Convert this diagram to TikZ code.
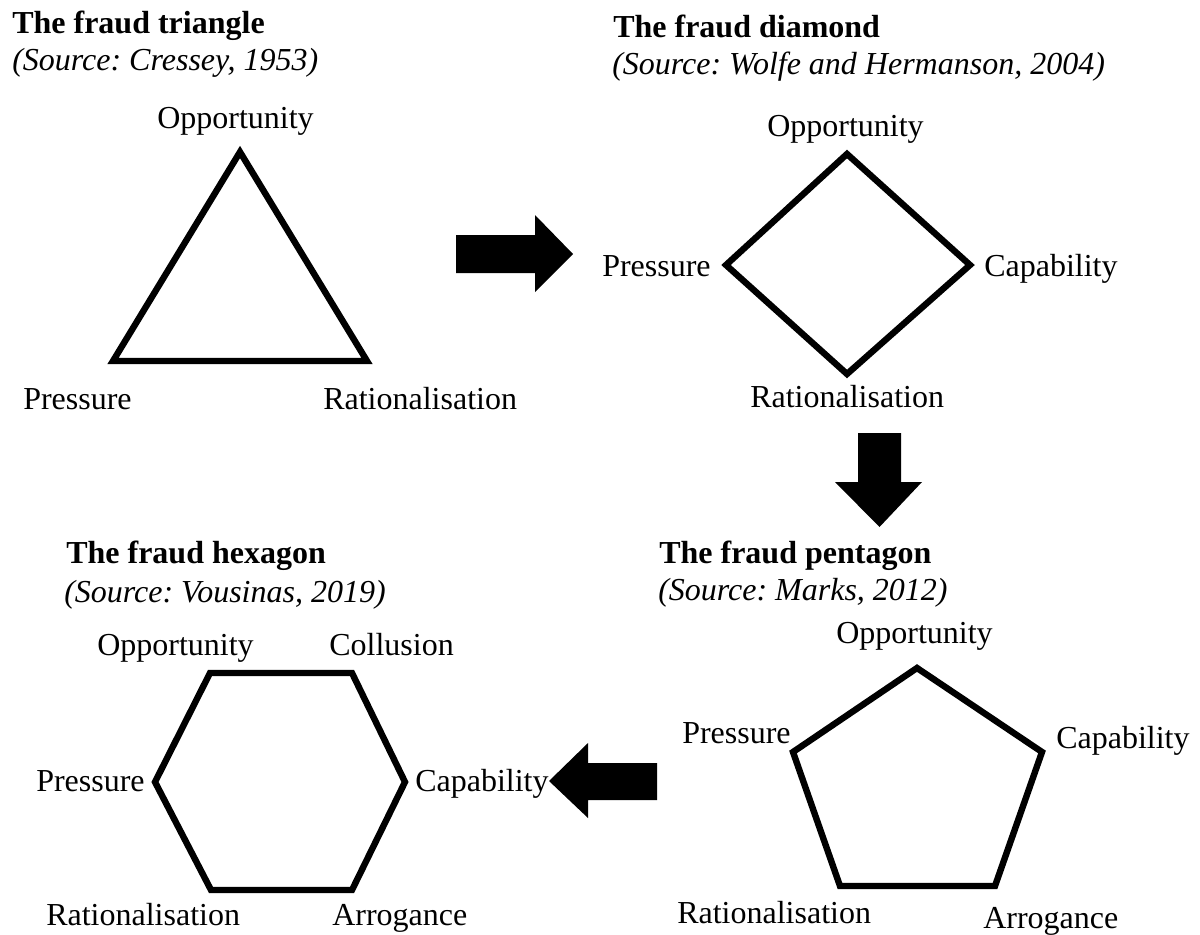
\documentclass[tikz,border=0pt]{standalone}
\usepackage{fontspec}
\setmainfont{Liberation Serif}
\frenchspacing
\begin{document}
\begin{tikzpicture}[x=0.75pt,y=-0.75pt]
\tikzset{
  lbl/.style={anchor=base west, inner sep=0pt, font=\fontsize{24}{28}\selectfont},
  ttl/.style={anchor=base west, inner sep=0pt, font=\fontsize{24}{28}\selectfont\bfseries},
  src/.style={anchor=base west, inner sep=0pt, font=\fontsize{24}{28}\selectfont\itshape},
  polyline/.style={draw=black, line width=4.8pt, line join=miter},
  blockarrow/.style={fill=black, draw=none},
}
\useasboundingbox[fill=white] (0,0) rectangle (1200,935);

% ---------- Triangle ----------
\node[ttl] (t-title) at (12,33) {The fraud triangle};
\node[src] (t-src) at (12,70) {(Source: Cressey, 1953)};
\coordinate (t1) at (240,152);
\coordinate (t2) at (113,361);
\coordinate (t3) at (367,361);
\draw[polyline] (t1) -- (t2) -- (t3) -- cycle;
\node[lbl] (t-opp) at (157,128) {Opportunity};
\node[lbl] (t-pre) at (23,409) {Pressure};
\node[lbl] (t-rat) at (323,409) {Rationalisation};

% arrow right
\fill[blockarrow] (456,235) -- (535,235) -- (535,215) -- (573,254) -- (535,292) -- (535,273) -- (456,273) -- cycle;

% ---------- Diamond ----------
\node[ttl] (d-title) at (613,37) {The fraud diamond};
\node[src] (d-src) at (612,74) {(Source: Wolfe and Hermanson, 2004)};
\coordinate (d1) at (847,154);
\coordinate (d2) at (970,265);
\coordinate (d3) at (847,374);
\coordinate (d4) at (726,265);
\draw[polyline] (d1) -- (d2) -- (d3) -- (d4) -- cycle;
\node[lbl] (d-opp) at (767,136) {Opportunity};
\node[lbl] (d-pre) at (602,276) {Pressure};
\node[lbl] (d-cap) at (984,276) {Capability};
\node[lbl] (d-rat) at (750,407) {Rationalisation};

% arrow down
\fill[blockarrow] (858,433) -- (901,433) -- (901,482) -- (922,482) -- (879.5,527) -- (835,482) -- (858,482) -- cycle;

% ---------- Pentagon ----------
\node[ttl] (p-title) at (659,563) {The fraud pentagon};
\node[src] (p-src) at (658,600) {(Source: Marks, 2012)};
\coordinate (p1) at (917,668);
\coordinate (p2) at (1042,752);
\coordinate (p3) at (995,886);
\coordinate (p4) at (840,886);
\coordinate (p5) at (793,752);
\draw[polyline] (p1) -- (p2) -- (p3) -- (p4) -- (p5) -- cycle;
\node[lbl] (p-opp) at (836,643) {Opportunity};
\node[lbl] (p-pre) at (682,743) {Pressure};
\node[lbl] (p-cap) at (1056,748) {Capability};
\node[lbl] (p-rat) at (677,923) {Rationalisation};
\node[lbl] (p-arr) at (983,928) {Arrogance};

% arrow left
\fill[blockarrow] (657,763) -- (588,763) -- (588,743) -- (549,781) -- (588,818) -- (588,800) -- (657,800) -- cycle;

% ---------- Hexagon ----------
\node[ttl] (h-title) at (66,563) {The fraud hexagon};
\node[src] (h-src) at (64,602) {(Source: Vousinas, 2019)};
\coordinate (h1) at (210,673);
\coordinate (h2) at (352,673);
\coordinate (h3) at (405,782);
\coordinate (h4) at (352,890);
\coordinate (h5) at (211,890);
\coordinate (h6) at (155,782);
\draw[polyline] (h1) -- (h2) -- (h3) -- (h4) -- (h5) -- (h6) -- cycle;
\node[lbl] (h-opp) at (97,655) {Opportunity};
\node[lbl] (h-col) at (329,655) {Collusion};
\node[lbl] (h-pre) at (36,791) {Pressure};
\node[lbl] (h-cap) at (415,791) {Capability};
\node[lbl] (h-rat) at (46,925) {Rationalisation};
\node[lbl] (h-arr) at (332,925) {Arrogance};
\end{tikzpicture}
\end{document}
